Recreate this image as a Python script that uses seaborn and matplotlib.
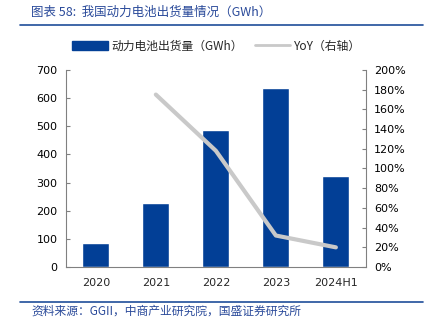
import matplotlib
matplotlib.use("Agg")
import matplotlib.pyplot as plt
import seaborn as sns
import pandas as pd
import numpy as np
from matplotlib.lines import Line2D
from matplotlib.patches import Patch
from matplotlib.ticker import FuncFormatter, FixedLocator

sns.set_style("white")
plt.rcParams['font.family'] = ['Noto Sans CJK SC', 'DejaVu Sans']

years = ["2020", "2021", "2022", "2023", "2024H1"]
shipments = [84, 226, 485, 637, 325]
yoy_years = ["2021", "2022", "2023", "2024H1"]
yoy = [175, 118, 32, 20]

bar_color = "#023F96"
line_color = "#C9C9C9"
title_color = "#2A4A9A"

fig = plt.figure(figsize=(4.33, 3.33), dpi=100)
ax = fig.add_axes([0.152, 0.198, 0.693, 0.592])

df = pd.DataFrame({"year": years, "value": shipments})
sns.barplot(data=df, x="year", y="value", color=bar_color, width=0.45,
            saturation=1, ax=ax)
ax.set_ylim(0, 700)
ax.set_yticks(range(0, 701, 100))
ax.set_xlim(-0.5, 4.5)
ax.set_xlabel("")
ax.set_ylabel("")

ax2 = ax.twinx()
xpos = [years.index(y) for y in yoy_years]
sns.lineplot(x=xpos, y=yoy, color=line_color, linewidth=3, ax=ax2)
ax2.set_ylim(0, 200)
ax2.set_yticks(range(0, 201, 20))
ax2.yaxis.set_major_formatter(FuncFormatter(lambda v, p: f"{int(v)}%"))
ax2.set_xlim(-0.5, 4.5)

for a in (ax, ax2):
    a.spines["top"].set_visible(False)
    for s in ["left", "right", "bottom"]:
        a.spines[s].set_color("#808080")
        a.spines[s].set_linewidth(0.8)
    a.tick_params(axis="y", direction="in", length=3, color="#808080",
                  labelsize=8, labelcolor="black", pad=6)

ax.tick_params(axis="x", which="major", length=0, labelsize=8, pad=8)
ax.xaxis.set_minor_locator(FixedLocator([0.5, 1.5, 2.5, 3.5]))
ax.tick_params(axis="x", which="minor", direction="in", length=3, color="#808080")
ax.spines["right"].set_visible(False)
ax2.spines["left"].set_visible(False)
ax2.spines["bottom"].set_visible(False)

for lab in ax.get_xticklabels() + ax.get_yticklabels() + ax2.get_yticklabels():
    lab.set_fontfamily("DejaVu Sans")

handles = [Patch(facecolor=bar_color, edgecolor=bar_color),
           Line2D([0], [0], color=line_color, linewidth=2)]
fig.legend(handles, ["动力电池出货量（GWh）", "YoY（右轴）"],
           loc="center", bbox_to_anchor=(0.5, 0.862), ncol=2, frameon=False,
           fontsize=8.5, handlelength=3.0, handleheight=0.8, columnspacing=1.0,
           handletextpad=0.3)

fig.text(0.072, 0.962, "图表 58:  我国动力电池出货量情况（GWh）", color=title_color,
         fontsize=9, va="center", ha="left", style="italic")
fig.add_artist(Line2D([0.046, 0.977], [0.925, 0.925], color="#1F4E9A", linewidth=1.2))
fig.add_artist(Line2D([0.046, 0.977], [0.093, 0.093], color="#1F4E9A", linewidth=1.2))
fig.text(0.072, 0.065, "资料来源：GGII，中商产业研究院，国盛证券研究所", color=title_color,
         fontsize=8.5, va="center", ha="left", style="italic")

fig.savefig("out.png", dpi=100)
